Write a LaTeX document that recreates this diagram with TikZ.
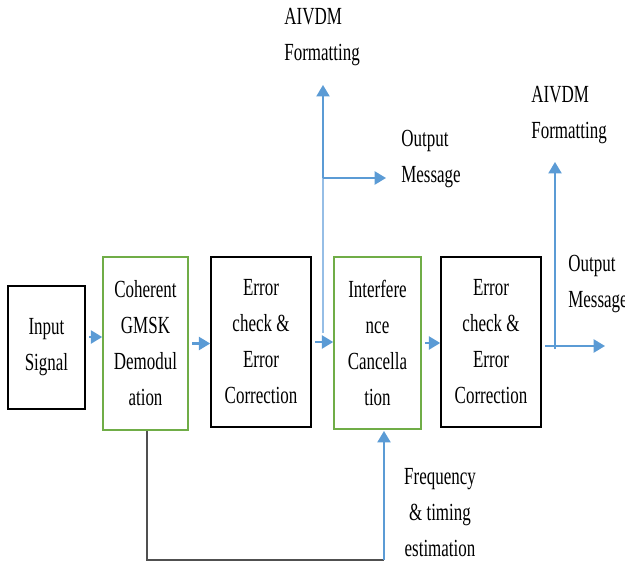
\documentclass[tikz,border=0pt]{standalone}
\usepackage{fontspec}
\setmainfont{Liberation Serif}[FakeStretch=0.69]
\usepackage{xcolor}
\usetikzlibrary{arrows.meta}
\definecolor{boxgreen}{RGB}{112,173,71}
\definecolor{flowblue}{RGB}{91,155,213}
\definecolor{paleblue}{RGB}{150,190,230}
\definecolor{fbgray}{RGB}{80,80,80}
\tikzset{
	blk/.style={draw=black, line width=0.9pt, align=center, inner sep=0pt, font=\fontsize{14}{20.5}\selectfont},
	gblk/.style={blk, draw=boxgreen},
	flow/.style={flowblue, line width=1.2pt, -{Triangle[length=6.5pt,width=7.5pt]}},
	branch/.style={paleblue, line width=0.8pt},
	lbl/.style={align=left, anchor=west, inner sep=0pt, font=\fontsize{14}{20.5}\selectfont},
}

\begin{document}
\begin{tikzpicture}[x=0.02cm, y=-0.02cm]
		\useasboundingbox (0,0) rectangle (625,565);
		\node[blk, minimum width=1.54cm, minimum height=2.46cm] (input) at (46.5,347.5) {Input\\Signal};
		\node[gblk, minimum width=1.7cm, minimum height=3.46cm] (demod) at (145.5,343.5) {Coherent\\GMSK\\Demodul\\ation};
		\node[blk, minimum width=2cm, minimum height=3.4cm] (errA) at (261,342) {Error\\check \&\\Error\\Correction};
		\node[gblk, minimum width=1.74cm, minimum height=3.44cm] (cancel) at (377.5,343) {Interfere\\nce\\Cancella\\tion};
		\node[blk, minimum width=2cm, minimum height=3.4cm] (errB) at (491,342) {Error\\check \&\\Error\\Correction};
		\node[lbl] (fmtA) at (284,37) {AIVDM\\Formatting};
		\node[lbl] (msgA) at (401,159) {Output\\Message};
		\node[lbl] (fmtB) at (531,115) {AIVDM\\Formatting};
		\node[lbl] (msgB) at (568,284) {Output\\Message};
		\node[lbl, align=center, anchor=center] (est) at (440,513) {Frequency\\\& timing\\estimation};
		\draw[flow, shorten <=2pt] ([yshift=0.21cm]input.east) -- ([yshift=0.21cm]input.east -| demod.west);
		\draw[flow, shorten <=2pt] (demod.east) -- (demod.east -| errA.west);
		\draw[flow, shorten <=2pt] (errA.east) -- (errA.east -| cancel.west);
		\draw[flow, shorten <=2pt] (cancel.east) -- (cancel.east -| errB.west);
		\coordinate (outB) at (605,346);
		\draw[flow, shorten <=2pt] (errB.east |- outB) -- (outB);
		\coordinate (tapA) at (323,333);
		\coordinate (splitA) at (323,178);
		\coordinate (upA) at (323,85);
		\coordinate (outA) at (386,178);
		\draw[branch] (tapA) -- (splitA);
		\draw[flow, line width=0.9pt] (splitA) -- (upA);
		\draw[flow] (splitA) -- (outA);
		\coordinate (tapB) at (555,349);
		\coordinate (upB) at (555,162);
		\draw[flow, line width=0.9pt] (tapB) -- (upB);
		\coordinate (fbCorner) at (147,560);
		\coordinate (fbTurn) at (384,560);
		\coordinate (fbEnd) at (384,431);
		\draw[fbgray, line width=0.9pt] (demod.south -| fbCorner) -- (fbCorner) -- (fbTurn);
		\draw[flow, line width=1pt] (fbTurn) -- (fbEnd);
	\end{tikzpicture}
\end{document}
